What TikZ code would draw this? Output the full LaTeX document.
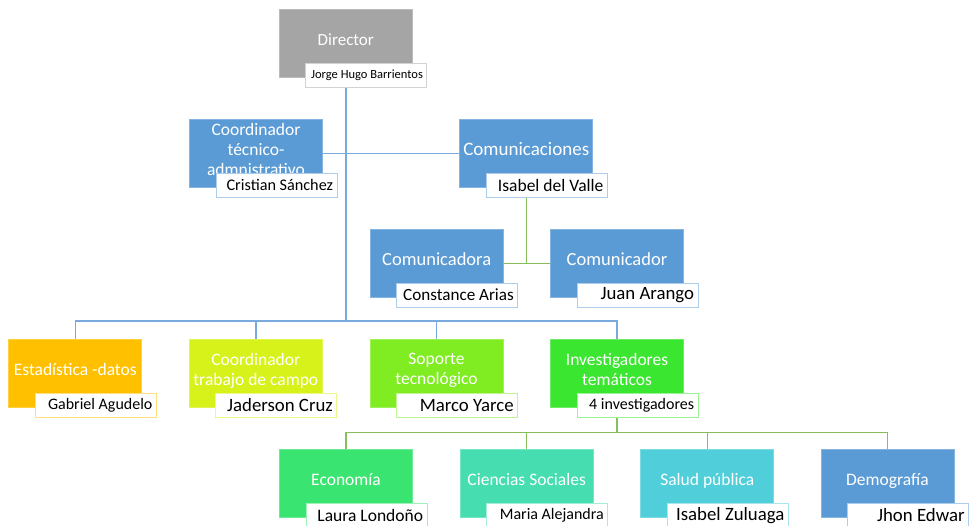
\documentclass[tikz,border=0pt]{standalone}
\usepackage{fontspec}
\setmainfont{Carlito}
\definecolor{gris}{RGB}{165,165,165}
\definecolor{azul}{RGB}{91,155,213}
\definecolor{naranja}{RGB}{255,192,0}
\definecolor{limon}{RGB}{214,242,26}
\definecolor{pasto}{RGB}{128,236,34}
\definecolor{verde}{RGB}{58,230,48}
\definecolor{esmeralda}{RGB}{58,228,112}
\definecolor{turquesa}{RGB}{70,222,176}
\definecolor{celeste}{RGB}{80,206,218}
\definecolor{lineaazul}{RGB}{120,170,222}
\definecolor{lineaverde}{RGB}{135,192,90}
\usepackage{tikz}
\usetikzlibrary{positioning,calc,backgrounds}

\begin{document}
\begin{tikzpicture}[x=1pt,y=-1pt,
  caja/.style={fill=#1,draw=#1!75!white,line width=0.8pt,minimum width=133pt,minimum height=68pt,
    text=white,align=center,inner sep=1pt,font=\fontsize{17.5}{20}\selectfont,
    execute at end node={\rule[-8pt]{0pt}{8pt}}},
  nombre/.style={fill=white,draw=#1!50!white,line width=1pt,minimum height=24pt,
    inner xsep=4pt,inner ysep=0pt,anchor=north west,font=\fontsize{17.5}{20}\selectfont,
    execute at begin node={\hbox to 113pt\bgroup\hfill},execute at end node={\egroup}},
  grande/.style={font=\fontsize{18.8}{21}\selectfont},
  chica/.style={font=\fontsize{16}{19}\selectfont},
  conector/.style={draw=#1,line width=1.4pt}]
  \clip (0,0) rectangle (969,525);
  % direccion
  \node[caja=gris,font=\fontsize{17}{20}\selectfont] (dir) at (345.8,43.3) {Director};
  \node[nombre=gris,font=\fontsize{12.5}{15}\selectfont] (dirn) at ($(dir.south west)+(26.5,-15)$) {Jorge Hugo Barrientos};
  % staff
  \node[caja=azul] (tec) at (256,153.3) {Coordinador\\t\'ecnico-\\admnistrativo};
  \node[nombre=azul,font=\fontsize{16.2}{19}\selectfont] (tecn) at ($(tec.south west)+(26.5,-15)$) {Cristian S\'anchez};
  \node[caja=azul,font=\fontsize{19}{22}\selectfont] (com) at (526.3,153.3) {Comunicaciones};
  \node[nombre=azul] (comn) at ($(com.south west)+(26.5,-15)$) {Isabel del Valle};
  \node[caja=azul,font=\fontsize{18.5}{22}\selectfont] (cdora) at (436.7,263.2) {Comunicadora};
  \node[nombre=azul,font=\fontsize{17.1}{20}\selectfont] (cdoran) at ($(cdora.south west)+(26.5,-15)$) {Constance Arias};
  \node[caja=azul,font=\fontsize{18.5}{22}\selectfont] (cdor) at (617,263.2) {Comunicador};
  \node[nombre=azul,grande] (cdorn) at ($(cdor.south west)+(26.5,-15)$) {Juan Arango};
  % areas
  \node[caja=naranja] (est) at (75.3,373.3) {Estad\'istica -datos};
  \node[nombre=naranja,chica] (estn) at ($(est.south west)+(26.5,-15)$) {Gabriel Agudelo};
  \node[caja=limon] (cam) at (255.8,373.3) {Coordinador\\trabajo de campo};
  \node[nombre=limon,grande] (camn) at ($(cam.south west)+(26.5,-15)$) {Jaderson Cruz};
  \node[caja=pasto] (sop) at (436.5,373.3) {Soporte\\tecnol\'ogico};
  \node[nombre=pasto,grande] (sopn) at ($(sop.south west)+(26.5,-15)$) {Marco Yarce};
  \node[caja=verde] (inv) at (617,373.3) {Investigadores\\tem\'aticos};
  \node[nombre=verde,chica] (invn) at ($(inv.south west)+(26.5,-15)$) {4 investigadores};
  % investigadores
  \node[caja=esmeralda] (eco) at (346,483.5) {Econom\'ia};
  \node[nombre=esmeralda] (econ) at ($(eco.south west)+(26.5,-15)$) {Laura Londo\~no};
  \node[caja=turquesa] (cie) at (526.7,483.5) {Ciencias Sociales};
  \node[nombre=turquesa,chica] (cien) at ($(cie.south west)+(26.5,-15)$) {Maria Alejandra};
  \node[caja=celeste] (sal) at (707.3,483.5) {Salud p\'ublica};
  \node[nombre=celeste,grande] (saln) at ($(sal.south west)+(26.5,-15)$) {Isabel Zuluaga};
  \node[caja=azul] (dem) at (887.5,483.5) {Demograf\'ia};
  \node[nombre=azul,grande] (demn) at ($(dem.south west)+(26.5,-15)$) {Jhon Edwar};
  % conexiones
  \coordinate (bus) at (345.8,321);
  \coordinate (bus2) at ($(inv.south)+(0,25)$);
  \begin{scope}[on background layer]
    \draw[conector=lineaazul] (dir.south) -- (bus);
    \draw[conector=lineaazul] (tec.east) -- (com.west);
    \foreach \b in {est,cam,sop,inv}
      \draw[conector=lineaazul] (bus) -| (\b.north);
    \draw[conector=lineaverde] (com.south) -- (com.south |- cdora.east);
    \draw[conector=lineaverde] (cdora.east) -- (cdor.west);
    \draw[conector=lineaverde] (inv.south) -- (bus2);
    \foreach \b in {eco,cie,sal,dem}
      \draw[conector=lineaverde] (bus2) -| (\b.north);
  \end{scope}
\end{tikzpicture}
\end{document}
